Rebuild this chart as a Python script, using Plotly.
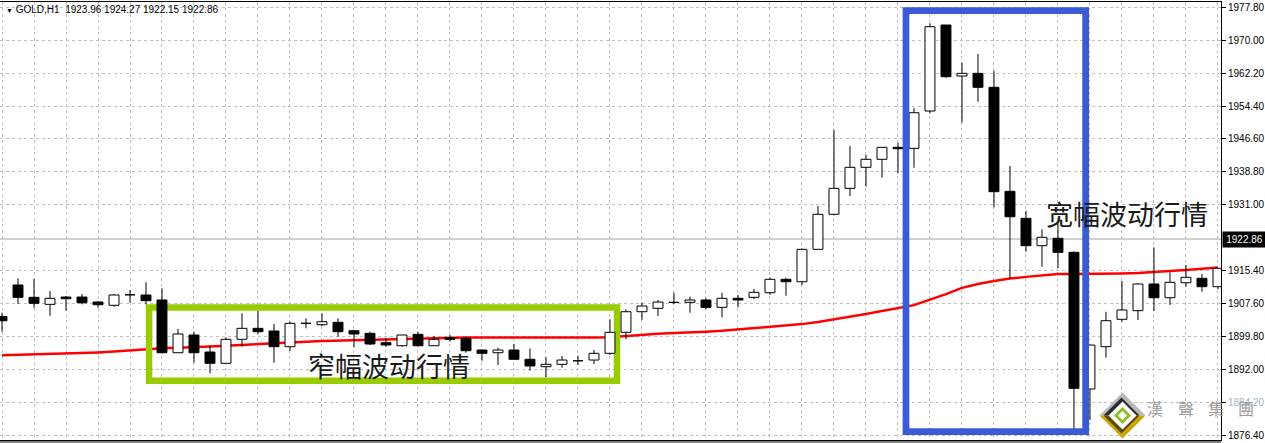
import plotly.graph_objects as go

# ---------------- data ----------------
bar_index = list(range(77))

opens = [1904.50, 1911.97, 1909.05, 1907.39, 1909.12, 1909.12, 1907.94, 1907.16, 1909.62, 1909.60,
         1908.42, 1895.92, 1900.12, 1896.09, 1893.41, 1899.10, 1901.70, 1901.07, 1897.35, 1902.87,
         1902.56, 1903.13, 1901.14, 1900.52, 1898.29, 1897.58, 1900.28, 1897.58, 1899.48, 1899.33,
         1896.56, 1895.92, 1896.56, 1894.36, 1892.60, 1893.17, 1893.98, 1894.19, 1895.78, 1900.76,
         1905.64, 1906.45, 1907.83, 1907.87, 1908.42, 1906.68, 1908.82, 1909.05, 1910.14, 1913.32,
         1912.75, 1920.43, 1928.73, 1934.89, 1939.87, 1941.77, 1944.61, 1944.37, 1953.22, 1973.60,
         1961.51, 1962.15, 1958.84, 1934.18, 1927.78, 1921.29, 1923.04, 1919.72, 1887.32, 1897.35,
         1903.84, 1905.88, 1912.21, 1908.96, 1912.51, 1913.56, 1911.57]
highs = [1905.40, 1913.56, 1913.39, 1910.55, 1909.36, 1909.83, 1908.18, 1909.83, 1910.78, 1912.61,
         1911.19, 1901.54, 1900.90, 1897.68, 1899.57, 1905.26, 1905.80, 1902.72, 1903.27, 1904.08,
         1905.26, 1904.08, 1901.30, 1900.90, 1899.33, 1900.12, 1900.90, 1899.88, 1900.12, 1899.72,
         1896.70, 1897.11, 1897.98, 1896.96, 1894.83, 1895.14, 1895.21, 1896.56, 1903.84, 1906.21,
         1907.77, 1908.42, 1910.14, 1909.20, 1908.82, 1910.14, 1909.60, 1911.02, 1913.80, 1913.70,
         1920.60, 1930.70, 1948.71, 1944.92, 1942.79, 1944.61, 1945.70, 1953.86, 1974.01, 1973.60,
         1964.67, 1966.73, 1962.70, 1940.18, 1929.58, 1925.17, 1926.60, 1919.90, 1897.80, 1905.64,
         1912.92, 1912.37, 1920.91, 1914.98, 1916.71, 1914.57, 1916.00]
lows = [1900.90, 1907.47, 1906.59, 1904.69, 1905.88, 1907.39, 1906.59, 1906.82, 1907.77, 1907.39,
        1895.73, 1895.92, 1893.55, 1891.04, 1893.41, 1897.35, 1900.36, 1893.55, 1896.40, 1901.70,
        1902.25, 1899.72, 1897.20, 1897.75, 1897.35, 1897.35, 1897.35, 1897.58, 1898.53, 1895.92,
        1894.02, 1893.01, 1894.36, 1891.66, 1890.09, 1892.37, 1893.01, 1893.24, 1895.38, 1899.10,
        1903.67, 1904.62, 1907.47, 1905.40, 1906.21, 1904.31, 1906.68, 1908.65, 1909.60, 1909.43,
        1911.97, 1920.43, 1928.49, 1933.07, 1935.27, 1937.40, 1938.45, 1939.77, 1952.67, 1961.11,
        1950.44, 1955.42, 1930.39, 1913.56, 1919.86, 1916.31, 1915.93, 1876.50, 1879.96, 1894.74,
        1903.27, 1903.67, 1905.80, 1907.23, 1911.57, 1910.38, 1911.00]
closes = [1903.50, 1909.05, 1907.63, 1908.82, 1908.72, 1907.77, 1907.30, 1909.60, 1909.67, 1908.25,
          1895.92, 1900.36, 1895.92, 1893.41, 1899.10, 1901.70, 1900.90, 1897.35, 1902.89, 1902.92,
          1903.27, 1900.90, 1900.36, 1897.98, 1897.75, 1900.12, 1897.58, 1899.10, 1899.10, 1896.40,
          1895.78, 1896.56, 1894.36, 1892.77, 1893.17, 1894.19, 1894.03, 1895.78, 1900.76, 1905.64,
          1907.00, 1907.94, 1907.88, 1908.42, 1906.68, 1908.82, 1908.42, 1910.24, 1913.32, 1912.75,
          1920.43, 1928.73, 1934.89, 1939.87, 1941.77, 1944.61, 1944.28, 1952.81, 1973.20, 1961.35,
          1962.15, 1958.84, 1934.09, 1928.16, 1921.29, 1923.28, 1919.72, 1887.48, 1897.74, 1903.51,
          1906.05, 1912.21, 1908.96, 1912.61, 1913.80, 1911.57, 1915.93]
ma_values = [1895.30, 1895.40, 1895.50, 1895.60, 1895.70, 1895.85, 1896.00, 1896.20, 1896.50, 1896.80,
             1897.00, 1897.10, 1897.20, 1897.40, 1897.60, 1897.75, 1897.90, 1898.10, 1898.30, 1898.50,
             1898.70, 1898.80, 1898.90, 1899.00, 1899.10, 1899.20, 1899.30, 1899.40, 1899.50, 1899.50,
             1899.50, 1899.50, 1899.40, 1899.40, 1899.40, 1899.40, 1899.50, 1899.50, 1899.60, 1899.90,
             1900.20, 1900.40, 1900.60, 1900.70, 1900.90, 1901.10, 1901.40, 1901.70, 1902.00, 1902.30,
             1902.70, 1903.20, 1903.80, 1904.40, 1905.10, 1905.80, 1906.50, 1907.20, 1908.50, 1909.80,
             1911.30, 1912.20, 1912.90, 1913.50, 1913.90, 1914.30, 1914.60, 1914.60, 1914.60, 1914.70,
             1914.70, 1914.80, 1915.00, 1915.30, 1915.50, 1915.80, 1916.10]

y_tick_values = [1977.80, 1970.00, 1962.20, 1954.40, 1946.60, 1938.80, 1931.00,
                 1915.40, 1907.60, 1899.80, 1892.00, 1884.20, 1876.40]
y_tick_labels = ["1977.80", "1970.00", "1962.20", "1954.40", "1946.60", "1938.80", "1931.00",
                 "1915.40", "1907.60", "1899.80", "1892.00",
                 "<span style='color:#9fb4c8'>1884.20</span>", "1876.40"]
bid_price = 1922.86
header_text = "GOLD,H1  1923.96 1924.27 1922.15 1922.86"

green_box_x = [9.19, 38.44]
green_box_y = [1889.29, 1906.64]
blue_box_x = [56.5, 67.73]
blue_box_y = [1877.2, 1977.0]
narrow_label = "窄幅波动行情"
narrow_pos = [24.19, 1892.8]
wide_label = "宽幅波动行情"
wide_pos = [70.34, 1929.0]
watermark_chars = ["漢", "聲", "集", "團"]

# ---------------- geometry ----------------
X_RANGE = [-0.125, 76.19]
Y_RANGE = [1875.23, 1979.06]
W, H = 1265, 443
ML, MR, MT, MB = 0, 44, 2, 3
PW, PH = W - ML - MR, H - MT - MB


def pxx(x):  # pixel -> paper (decorations only)
    return (x - ML) / PW


def pxy(y):
    return (H - MB - y) / PH


fig = go.Figure()

# moving average (main axes, drawn first)
fig.add_trace(go.Scatter(x=bar_index, y=ma_values, mode="lines",
                         line=dict(color="#ff0000", width=2.5), hoverinfo="skip",
                         xaxis="x", yaxis="y"))

# green frame (below candles, above MA)
gx0, gx1 = green_box_x
gy0, gy1 = green_box_y
gxm = (gx0 + gx1) / 2
fig.add_trace(go.Scatter(x=[gxm, gx1, gx1, gx0, gx0, gxm],
                         y=[gy1, gy1, gy0, gy0, gy1, gy1], mode="lines",
                         line=dict(color="#99cc00", width=6.5), hoverinfo="skip",
                         xaxis="x", yaxis="y"))

# wicks (overlay axes)
wx, wy = [], []
for k, o, h, l, c in zip(bar_index, opens, highs, lows, closes):
    top, bot = max(o, c), min(o, c)
    if h > top:
        wx += [k, k, None]
        wy += [top, h, None]
    if l < bot:
        wx += [k, k, None]
        wy += [l, bot, None]
fig.add_trace(go.Scatter(x=wx, y=wy, mode="lines", line=dict(color="black", width=1),
                         hoverinfo="skip", xaxis="x2", yaxis="y2"))

# bodies
fig.add_trace(go.Bar(x=bar_index,
                     y=[abs(c - o) for o, c in zip(opens, closes)],
                     base=[min(o, c) for o, c in zip(opens, closes)],
                     width=0.62,
                     marker=dict(color=["white" if c >= o else "black" for o, c in zip(opens, closes)],
                                 line=dict(color="black", width=1)),
                     hoverinfo="skip", xaxis="x2", yaxis="y2"))

shapes = []
# bid line
shapes.append(dict(type="line", xref="paper", x0=0, x1=1, yref="y", y0=bid_price, y1=bid_price,
                   line=dict(color="#c0c0c0", width=1.5), layer="below"))
# blue frame (above candles)
shapes.append(dict(type="rect", xref="x", yref="y", x0=blue_box_x[0], x1=blue_box_x[1],
                   y0=blue_box_y[0], y1=blue_box_y[1],
                   line=dict(color="#3b5bd6", width=6.7), fillcolor="rgba(0,0,0,0)", layer="above"))
# second bottom border line
shapes.append(dict(type="line", xref="paper", yref="paper", x0=0, x1=pxx(1221),
                   y0=pxy(442), y1=pxy(442), line=dict(color="black", width=1)))


# watermark logo (diamonds)
def diamond(cx, cy, r, fill, half=None):
    if half == "top":
        pts = [(cx - r, cy), (cx, cy - r), (cx + r, cy)]
    elif half == "bottom":
        pts = [(cx - r, cy), (cx, cy + r), (cx + r, cy)]
    else:
        pts = [(cx - r, cy), (cx, cy - r), (cx + r, cy), (cx, cy + r)]
    path = "M " + " L ".join(f"{pxx(a):.5f},{pxy(b):.5f}" for a, b in pts) + " Z"
    return dict(type="path", xref="paper", yref="paper", path=path, fillcolor=fill,
                line=dict(width=0), layer="above")


cx, cy = 1122.5, 415.5
shapes += [
    diamond(cx, cy, 23, "#b9b9b9", "top"),
    diamond(cx, cy, 23, "#c9a60a", "bottom"),
    diamond(cx - 1, cy, 18, "#2b2b2b", "top"),
    diamond(cx - 1, cy, 18, "#5c4a00", "bottom"),
    diamond(cx, cy, 14, "#ffffff"),
    diamond(cx, cy, 8.5, "#8cbf26"),
    diamond(cx, cy, 4.5, "#ffffff"),
]

annotations = [
    dict(xref="paper", yref="paper", x=pxx(4), y=pxy(9.5), xanchor="left", yanchor="middle",
         text="<span style='font-size:7px'>▼</span> " + header_text, showarrow=False,
         font=dict(family="Liberation Sans", size=10, color="black")),
    dict(xref="paper", yref="y", x=1, y=bid_price, xanchor="left", yanchor="middle", xshift=1,
         text="1922.86", showarrow=False, bgcolor="black", width=41, height=13,
         font=dict(family="Liberation Sans", size=10, color="white")),
    dict(xref="x", yref="y", x=narrow_pos[0], y=narrow_pos[1], text=narrow_label, showarrow=False,
         font=dict(family="Noto Sans CJK SC", size=27, color="#1a1a1a")),
    dict(xref="x", yref="y", x=wide_pos[0], y=wide_pos[1], text=wide_label, showarrow=False,
         font=dict(family="Noto Sans CJK SC", size=27, color="#1a1a1a")),
]
for ch, xc in zip(watermark_chars, [1164.5, 1195.5, 1226, 1256]):
    annotations.append(dict(xref="paper", yref="paper", x=pxx(xc), y=pxy(421.5), text=ch,
                            showarrow=False,
                            font=dict(family="Noto Sans CJK TC", size=16, color="#9c9c9c")))

fig.update_layout(
    width=W, height=H, margin=dict(l=ML, r=MR, t=MT, b=MB, pad=0),
    paper_bgcolor="white", plot_bgcolor="white", showlegend=False,
    xaxis=dict(range=X_RANGE, showgrid=True, gridcolor="#c0c0c0", griddash="3px,3px", gridwidth=1,
               tick0=0, dtick=2, showticklabels=False, ticks="", zeroline=False,
               showline=True, mirror=True, linecolor="black", linewidth=1, fixedrange=True),
    yaxis=dict(range=Y_RANGE, side="right", tickvals=y_tick_values, ticktext=y_tick_labels,
               ticks="outside", ticklen=4, tickcolor="black", showgrid=True, gridcolor="#c0c0c0",
               griddash="3px,3px", gridwidth=1, zeroline=False, showline=True, linecolor="black",
               linewidth=1, tickfont=dict(family="Liberation Sans", size=10, color="black")),
    xaxis2=dict(range=X_RANGE, overlaying="x", anchor="y2", visible=False),
    yaxis2=dict(range=Y_RANGE, overlaying="y", anchor="x2", visible=False),
    shapes=shapes, annotations=annotations,
)

fig.write_html("out.html", config={"displayModeBar": False},
               post_script="document.body.style.margin='0';document.body.style.overflow='hidden';")
